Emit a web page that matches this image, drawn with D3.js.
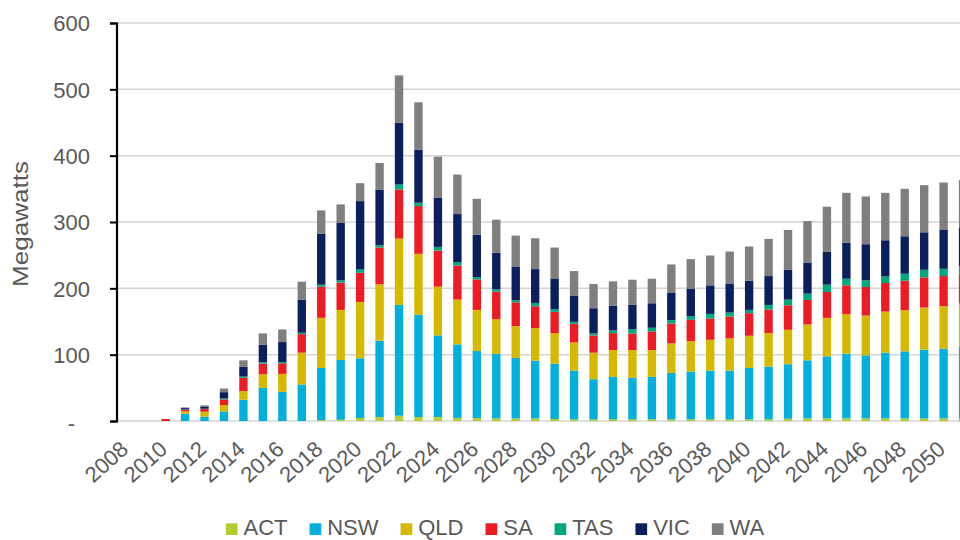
<!DOCTYPE html>
<html>
<head>
<meta charset="utf-8">
<script src="https://cdn.jsdelivr.net/npm/d3@7"></script>
<style>
  body { margin: 0; background: #fff; }
  text { font-family: "Liberation Sans", Arial, Helvetica, sans-serif; fill: #595959; }
</style>
</head>
<body>
<svg id="chart" width="960" height="540"></svg>
<script>
// Annual capacity additions by state, in megawatts
const years = [2008, 2009, 2010, 2011, 2012, 2013, 2014, 2015, 2016, 2017,
  2018, 2019, 2020, 2021, 2022, 2023, 2024, 2025, 2026, 2027,
  2028, 2029, 2030, 2031, 2032, 2033, 2034, 2035, 2036, 2037,
  2038, 2039, 2040, 2041, 2042, 2043, 2044, 2045, 2046, 2047,
  2048, 2049, 2050, 2051];

const regions = ["ACT", "NSW", "QLD", "SA", "TAS", "VIC", "WA"];

const act = [0, 0, 0, 0, 0, 0, 0, 0, 0, 0,
  1.5, 2, 4.5, 6, 8, 6, 6, 4.5, 4.5, 4,
  4, 4, 3, 2.5, 2.5, 2.5, 2.5, 2.5, 2.5, 2.5,
  2.5, 2.5, 2.5, 2.5, 3.5, 4, 4, 4, 4, 4,
  4, 4, 4, 4];
const nsw = [0, 0, 0, 11, 6.5, 14.5, 32, 50, 44, 55,
  78.5, 90, 90, 115, 167, 154, 123, 111, 101, 97,
  91, 87, 83.5, 73.5, 60.5, 64, 62.5, 64, 70, 72,
  73.5, 73.5, 77.5, 79.5, 82, 87.5, 93.5, 97.5, 95, 99,
  101, 103.5, 105, 107.5];
const qld = [0, 0, 0, 3.5, 7.5, 9.5, 13, 20.5, 27, 48,
  75.5, 75.5, 85, 85, 100, 92, 73.5, 67.5, 62, 52.5,
  48, 49, 46, 42.5, 40, 40.5, 42, 40.5, 44.5, 46,
  46.5, 48.5, 48.5, 50.5, 52, 54, 58, 59.5, 60, 62,
  62, 63.5, 64, 65.5];
const sa = [0, 0, 3, 2.5, 4, 8.5, 20, 16, 16, 28,
  47, 41, 44, 55.5, 74, 72, 54.5, 51.5, 46, 41.5,
  36, 33, 32, 28, 26, 25.5, 25, 28, 30, 32,
  32, 33, 34, 35.5, 37, 37, 39, 43.5, 43, 43,
  44.5, 45.5, 45.5, 45.5];
const tas = [0, 0, 0, 0.5, 0.5, 1.5, 2, 2, 2, 2,
  3, 3.5, 5, 3.5, 7.5, 5, 5.5, 5, 3.5, 3.5,
  3, 5, 4, 3, 3, 4, 6.5, 5.5, 5, 5.5,
  7, 6, 5, 7, 8.5, 9.5, 11, 10, 10, 10,
  10.5, 11.5, 11, 11];
const vic = [0, 0, 0, 2, 3.5, 9.5, 14.5, 26.5, 30, 50,
  77, 86.5, 103, 84, 93, 80, 74.5, 72.5, 64, 55,
  51, 51, 46.5, 39, 38, 37, 37, 37, 41, 41,
  43, 43, 44, 43.5, 45, 47, 50, 54.5, 54.5, 54.5,
  56.5, 56.5, 58.5, 58.5];
const wa = [0, 0, 0, 1, 1.5, 5.5, 10, 17, 19, 27,
  35, 28, 27, 40, 71.5, 71.5, 61.5, 59.5, 54, 50,
  46.5, 46.5, 46.5, 37.5, 36.5, 37, 37.5, 37, 43, 45,
  45, 49, 51.5, 56, 60, 62.5, 67.5, 75, 72, 71.5,
  71.5, 71, 71.5, 71.5];

const colors = ["#b2cc35", "#00b0dc", "#d5b900", "#ed1c24", "#00a77a", "#0b1f5c", "#7f7f7f"];

const xTickYears = [2008, 2010, 2012, 2014, 2016, 2018, 2020, 2022, 2024, 2026,
  2028, 2030, 2032, 2034, 2036, 2038, 2040, 2042, 2044, 2046, 2048, 2050];
const yTicks = [0, 100, 200, 300, 400, 500, 600];

const seriesValues = [act, nsw, qld, sa, tas, vic, wa];
const rows = years.map((yr, i) => {
  const row = { year: yr };
  regions.forEach((r, k) => { row[r] = seriesValues[k][i]; });
  return row;
});

const svg = d3.select("#chart");
const W = 960;

const x = d3.scaleBand()
  .domain(years)
  .range([117, 117 + years.length * 19.45])
  .paddingInner(0.57)
  .paddingOuter(0.285);

const y = d3.scaleLinear().domain([0, 600]).range([421, 23]);

// Horizontal gridlines
svg.append("g")
  .selectAll("line")
  .data(yTicks)
  .join("line")
  .attr("x1", 117).attr("x2", W)
  .attr("y1", d => y(d)).attr("y2", d => y(d))
  .attr("stroke", "#d4d4d4")
  .attr("stroke-width", 1.5);

// Stacked bars
const stacked = d3.stack().keys(regions)(rows);
const color = d3.scaleOrdinal().domain(regions).range(colors);

svg.append("g")
  .selectAll("g")
  .data(stacked)
  .join("g")
  .attr("fill", d => color(d.key))
  .selectAll("rect")
  .data(d => d)
  .join("rect")
  .attr("x", d => x(d.data.year))
  .attr("width", x.bandwidth())
  .attr("y", d => y(d[1]))
  .attr("height", d => Math.max(0, y(d[0]) - y(d[1])));

// Y axis
const yAxis = svg.append("g")
  .attr("transform", "translate(116.5,0)")
  .call(d3.axisLeft(y)
    .tickValues(yTicks)
    .tickSize(6.5)
    .tickPadding(20)
    .tickFormat(d => d === 0 ? "-" : d));
yAxis.select(".domain").attr("stroke", "#000").attr("stroke-width", 2.2);
yAxis.selectAll(".tick line").attr("stroke", "#000").attr("stroke-width", 2);
yAxis.selectAll(".tick text")
  .attr("fill", "#595959")
  .style("font-size", "22px")
  .attr("dx", d => d === 0 ? -15 : 0)
  .attr("dy", d => d === 0 ? "0.45em" : "0.36em");

// Y axis title
svg.append("text")
  .attr("transform", "translate(27.5,224) rotate(-90)")
  .attr("text-anchor", "middle")
  .attr("textLength", 126)
  .attr("lengthAdjust", "spacingAndGlyphs")
  .style("font-size", "22px")
  .text("Megawatts");

// X tick labels, rotated
svg.append("g")
  .selectAll("text")
  .data(xTickYears)
  .join("text")
  .attr("text-anchor", "end")
  .attr("transform", d => `translate(${x(d) + x.bandwidth() / 2 + 3},451) rotate(-42)`)
  .style("font-size", "22px")
  .text(d => d);

// Legend
const legend = svg.append("g");
const items = legend.selectAll("g")
  .data(regions)
  .join("g");
items.append("rect")
  .attr("width", 11.7).attr("height", 11.7)
  .attr("y", 523.3)
  .attr("fill", d => color(d));
items.append("text")
  .attr("x", 17.7)
  .attr("y", 535)
  .style("font-size", "22px")
  .text(d => d);

let cursor = 0;
const offsets = [];
items.each(function () {
  const tw = d3.select(this).select("text").node().getComputedTextLength();
  offsets.push(cursor);
  cursor += 17.7 + tw + 22;
});
const total = cursor - 22;
const start = 495 - total / 2;
items.attr("transform", (d, i) => `translate(${start + offsets[i]},0)`);
</script>
</body>
</html>
